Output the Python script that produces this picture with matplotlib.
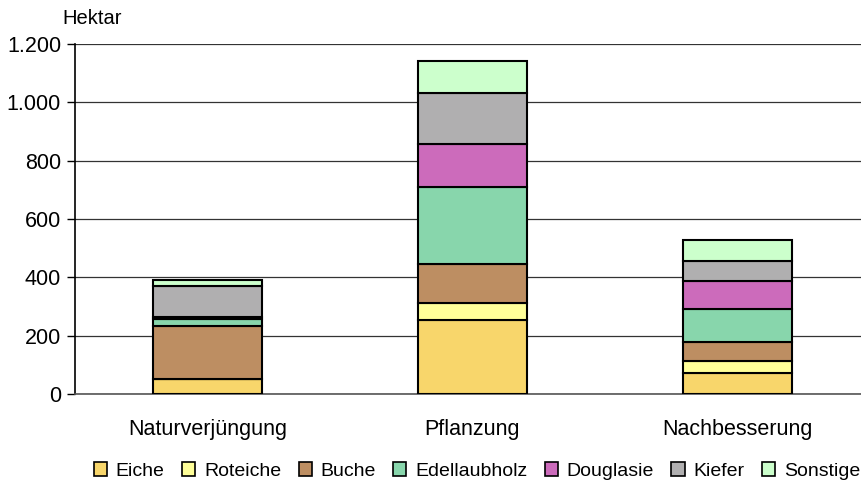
import matplotlib.pyplot as plt
import numpy as np

plt.rcParams['font.family'] = ['Liberation Sans', 'DejaVu Sans']

# Hektar je Baumart und Verjüngungsart
kategorien = ['Naturverjüngung', 'Pflanzung', 'Nachbesserung']
baumarten = ['Eiche', 'Roteiche', 'Buche', 'Edellaubholz', 'Douglasie', 'Kiefer', 'Sonstige']
eiche = [51, 254, 73]
roteiche = [0, 57, 41]
buche = [183, 134, 64]
edellaubholz = [24, 266, 112]
douglasie = [6, 146, 98]
kiefer = [107, 176, 69]
sonstige = [21, 110, 71]
farben = ['#F8D66B', '#FFFF99', '#BD8E62', '#88D6AC', '#CC6BBB', '#B0AFB0', '#CCFFCC']

werte = [eiche, roteiche, buche, edellaubholz, douglasie, kiefer, sonstige]

fig = plt.figure(figsize=(8.62, 4.84), dpi=100)
ax = fig.add_axes([75 / 862, 90 / 484, 795 / 862, 350 / 484])

x = np.arange(len(kategorien))
unten = np.zeros(len(kategorien))
for name, w, c in zip(baumarten, werte, farben):
    ax.bar(x, w, width=0.41, bottom=unten, color=c, edgecolor='black',
           linewidth=1.5, label=name, zorder=3)
    unten += np.array(w)

ax.set_xlim(-0.5, 2.5)
ax.set_ylim(0, 1200)
ax.set_yticks(range(0, 1201, 200))
ax.set_yticklabels(['0', '200', '400', '600', '800', '1.000', '1.200'], fontsize=15.5)
ax.yaxis.grid(True, color='#333333', linewidth=0.9, zorder=0)
ax.set_xticks(x)
ax.set_xticklabels(kategorien, fontsize=15.5)
ax.tick_params(axis='x', length=0, pad=18)
ax.tick_params(axis='y', length=6, width=1, direction='out', pad=4)

for s in ['top', 'right']:
    ax.spines[s].set_visible(False)
ax.spines['left'].set_linewidth(1.2)
ax.spines['bottom'].set_color('#555555')
ax.spines['bottom'].set_linewidth(1.2)

fig.text(62 / 862, 1 - 18 / 484, 'Hektar', fontsize=14.5, va='center', ha='left')

leg = fig.legend(loc='center', bbox_to_anchor=(477 / 862, 1 - 471 / 484), ncol=7,
                 frameon=False, fontsize=14, handlelength=0.67, handleheight=0.67,
                 handletextpad=0.45, columnspacing=0.9, borderpad=0)
for h in leg.legend_handles:
    h.set_linewidth(1.2)

fig.savefig('out.png', dpi=100)
